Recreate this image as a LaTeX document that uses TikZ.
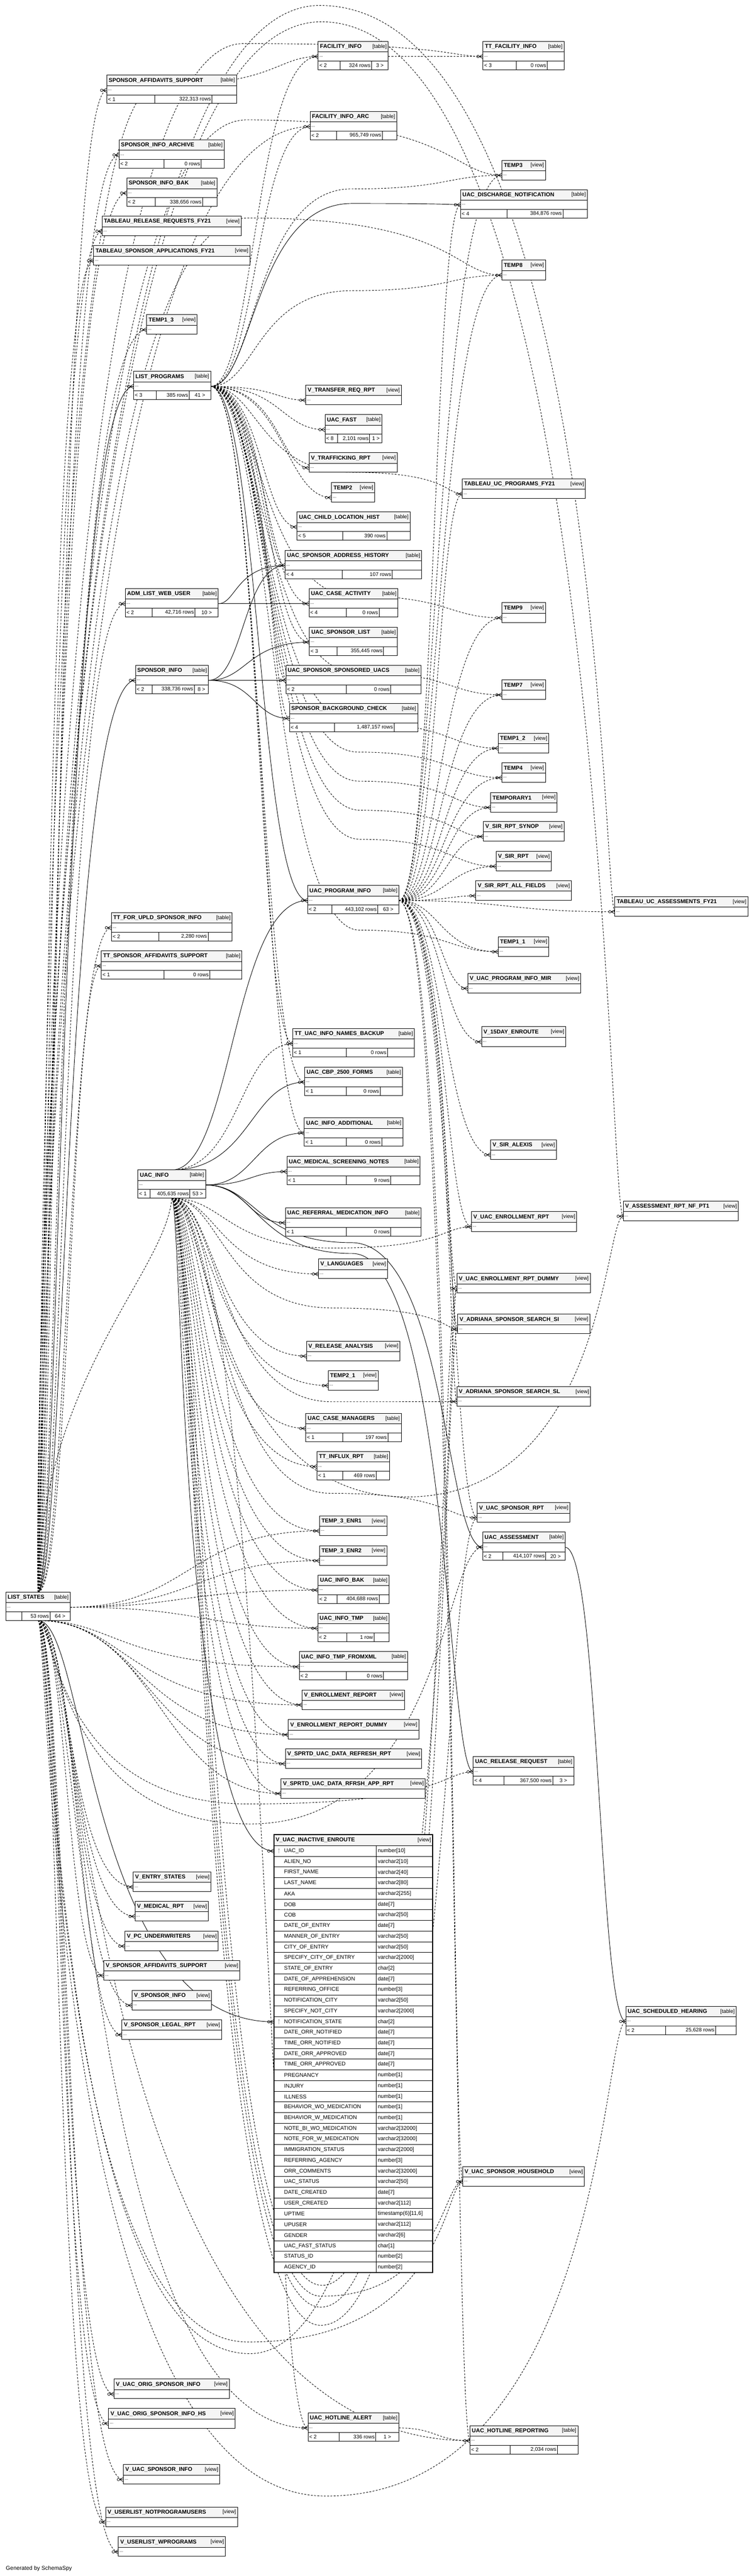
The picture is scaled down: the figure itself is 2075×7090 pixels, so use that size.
\documentclass[tikz,border=0pt]{standalone}
\usepackage{fontspec}
\setmainfont{Liberation Sans}
\usetikzlibrary{backgrounds}

\tikzset{
  hdr/.style={draw, fill=black!4, line width=1.4pt, anchor=north west, inner sep=0pt, outer sep=0pt, minimum height=29pt},
  cell/.style={draw, fill=white, line width=1.4pt, anchor=north west, inner sep=0pt, outer sep=0pt, minimum height=25pt},
  ttl/.style={anchor=west, inner sep=0pt, font=\fontsize{15.5}{18}\selectfont\bfseries},
  knd/.style={anchor=east, inner sep=0pt, font=\fontsize{14.5}{17}\selectfont},
  txt/.style={anchor=west, inner sep=0pt, font=\fontsize{14.5}{17}\selectfont},
  crow/.style={line width=1.1pt},
  nocrow/.style={draw=none},
  fkd/.style={line width=1.3pt, dash pattern=on 5pt off 4pt},
  fks/.style={line width=1.3pt}
}

\newcommand{\dbhead}[7]{%
  \def\bxa{#3}\def\bxb{#4}\def\bya{#5}%
  \node[hdr, minimum width=#4pt-#3pt] (#2h) at (#3,#5) {};
  \node[ttl] at ([xshift=5pt]#2h.west) {#6};
  \node[knd] at ([xshift=-4pt]#2h.east) {[#7]};
  \node[cell, minimum width=#4pt-#3pt] (#2) at (#3,#5+29) {};
  \node[txt, font=\fontsize{12}{14}\selectfont] at ([xshift=3pt]#2.west) {...};
  \draw[#1] (#3-14,#5+41.5) circle[radius=3.5] (#3-10.5,#5+41.5) -- (#3,#5+41.5)
    (#3-10.5,#5+41.5) -- (#3,#5+35.5) (#3-10.5,#5+41.5) -- (#3,#5+47.5);
}
\newcommand{\dbview}[6][crow]{\dbhead{#1}{#2}{#3}{#4}{#5}{#6}{view}}
\newcommand{\dbtable}[6][crow]{\dbhead{#1}{#2}{#3}{#4}{#5}{#6}{table}}
\newcommand{\dbfoot}[5]{%
  \filldraw[fill=white, line width=1.4pt] (\bxa,\bya+54) rectangle (\bxb,\bya+78)
    (#1,\bya+54) -- (#1,\bya+78) (#2,\bya+54) -- (#2,\bya+78);
  \node[txt] at (\bxa+3,\bya+66) {#3};
  \node[txt, anchor=east] at (#2-3,\bya+66) {#4};
  \node[txt, anchor=center] at ({(#2+\bxb)/2},\bya+66) {#5};
}
\newcommand{\fkv}[4][fkd]{\draw[#1] (#2) .. controls (#3,0 |- #2) and (#3,0 |- #4.west) .. (#4.west);}
\newcommand{\fkw}[6][fkd]{\draw[#1] (#2) .. controls (#3,0 |- #2) and (#3,#4) .. ({(#3+#5)/2},#4)
  .. controls (#5,#4) and (#5,0 |- #6.west) .. (#6.west);}

\begin{document}
\begin{tikzpicture}[x=1pt,y=-1pt]
\useasboundingbox (0,0) rectangle (2075,7090);

\dbtable{fi}{876}{1069}{114}{FACILITY\_INFO}\dbfoot{936}{1023}{< 2}{324 rows}{3 >}
\dbtable{tfi}{1330}{1553}{114}{TT\_FACILITY\_INFO}\dbfoot{1421}{1507}{< 3}{0 rows}{}
\dbtable{sas}{294}{651}{207}{SPONSOR\_AFFIDAVITS\_SUPPORT}\dbfoot{426}{584}{< 1}{322,313 rows}{}
\dbtable{fia}{854}{1092}{307}{FACILITY\_INFO\_ARC}\dbfoot{926}{1053}{< 2}{965,749 rows}{}
\dbtable{sia}{328}{617}{385}{SPONSOR\_INFO\_ARCHIVE}\dbfoot{451}{554}{< 2}{0 rows}{}
\dbtable{sib}{349}{597}{490}{SPONSOR\_INFO\_BAK}\dbfoot{427}{558}{< 2}{338,656 rows}{}
\dbview{trr}{281}{664}{595}{TABLEAU\_RELEASE\_REQUESTS\_FY21}
\dbview{tsa}{258}{688}{676}{TABLEAU\_SPONSOR\_APPLICATIONS\_FY21}
\dbview{t3}{1382}{1502}{441}{TEMP3}
\dbtable{udn}{1268}{1617}{522}{UAC\_DISCHARGE\_NOTIFICATION}\dbfoot{1396}{1550}{< 4}{384,876 rows}{}
\dbview{t8}{1382}{1502}{716}{TEMP8}
\dbview{t13}{404}{543}{866}{TEMP1\_3}
\dbtable{lp}{368}{580}{1022}{LIST\_PROGRAMS}\dbfoot{430}{521}{< 3}{385 rows}{41 >}
\dbview{vtr}{842}{1105}{1060}{V\_TRANSFER\_REQ\_RPT}
\dbtable{fast}{895}{1052}{1141}{UAC\_FAST}\dbfoot{929}{1018}{< 8}{2,101 rows}{1 >}
\dbview{vtk}{851}{1094}{1246}{V\_TRAFFICKING\_RPT}
\dbview{t2}{913}{1032}{1328}{TEMP2}
\dbview{tup}{1273}{1612}{1318}{TABLEAU\_UC\_PROGRAMS\_FY21}
\dbtable{uclh}{818}{1129}{1409}{UAC\_CHILD\_LOCATION\_HIST}\dbfoot{944}{1065}{< 5}{390 rows}{}
\dbtable{usah}{785}{1161}{1515}{UAC\_SPONSOR\_ADDRESS\_HISTORY}\dbfoot{942}{1080}{< 4}{107 rows}{}
\dbtable{alwu}{345}{601}{1620}{ADM\_LIST\_WEB\_USER}\dbfoot{419}{537}{< 2}{42,716 rows}{10 >}
\dbtable{uca}{851}{1096}{1620}{UAC\_CASE\_ACTIVITY}\dbfoot{953}{1044}{< 4}{0 rows}{}
\dbview{t9}{1382}{1502}{1659}{TEMP9}
\dbtable{usl}{852}{1094}{1726}{UAC\_SPONSOR\_LIST}\dbfoot{928}{1056}{< 3}{355,445 rows}{}
\dbtable{si}{373}{574}{1831}{SPONSOR\_INFO}\dbfoot{419}{535}{< 2}{338,736 rows}{8 >}
\dbtable{ussu}{787}{1159}{1831}{UAC\_SPONSOR\_SPONSORED\_UACS}\dbfoot{953}{1076}{< 2}{0 rows}{}
\dbview{t7}{1382}{1502}{1871}{TEMP7}
\dbtable{sbc}{797}{1150}{1936}{SPONSOR\_BACKGROUND\_CHECK}\dbfoot{921}{1085}{< 4}{1,487,157 rows}{}
\dbview{t12}{1372}{1511}{2018}{TEMP1\_2}
\dbview{t4}{1382}{1502}{2099}{TEMP4}
\dbview{tmp1}{1351}{1534}{2181}{TEMPORARY1}
\dbview{vsrs}{1331}{1553}{2261}{V\_SIR\_RPT\_SYNOP}
\dbview{vsr}{1366}{1518}{2343}{V\_SIR\_RPT}
\dbview{vsra}{1310}{1573}{2424}{V\_SIR\_RPT\_ALL\_FIELDS}
\dbtable{upi}{847}{1098}{2437}{UAC\_PROGRAM\_INFO}\dbfoot{914}{1040}{< 2}{443,102 rows}{63 >}
\dbview{tua}{1693}{2059}{2468}{TABLEAU\_UC\_ASSESSMENTS\_FY21}
\dbtable{tfu}{307}{639}{2512}{TT\_FOR\_UPLD\_SPONSOR\_INFO}\dbfoot{437}{573}{< 2}{2,280 rows}{}
\dbview{t11}{1372}{1511}{2578}{TEMP1\_1}
\dbtable{tsas}{279}{666}{2617}{TT\_SPONSOR\_AFFIDAVITS\_SUPPORT}\dbfoot{451}{578}{< 1}{0 rows}{}
\dbview{vpim}{1288}{1599}{2679}{V\_UAC\_PROGRAM\_INFO\_MIR}
\dbview{v15}{1326}{1558}{2826}{V\_15DAY\_ENROUTE}
\dbtable{tunb}{806}{1141}{2831}{TT\_UAC\_INFO\_NAMES\_BACKUP}\dbfoot{953}{1067}{< 1}{0 rows}{}
\dbtable{cbp}{839}{1108}{2937}{UAC\_CBP\_2500\_FORMS}\dbfoot{953}{1047}{< 1}{0 rows}{}
\dbtable{uia}{838}{1109}{3077}{UAC\_INFO\_ADDITIONAL}\dbfoot{953}{1051}{< 1}{0 rows}{}
\dbview{vsa}{1351}{1532}{3137}{V\_SIR\_ALEXIS}
\dbtable{umsn}{790}{1157}{3183}{UAC\_MEDICAL\_SCREENING\_NOTES}\dbfoot{953}{1076}{< 1}{9 rows}{}
\dbtable[nocrow]{ui}{380}{566}{3220}{UAC\_INFO}\dbfoot{414}{523}{< 1}{405,635 rows}{53 >}
\dbview{varn}{1716}{2033}{3306}{V\_ASSESSMENT\_RPT\_NF\_PT1}
\dbtable{urmi}{786}{1159}{3324}{UAC\_REFERRAL\_MEDICATION\_INFO}\dbfoot{953}{1076}{< 1}{0 rows}{}
\dbview{ver}{1298}{1588}{3335}{V\_UAC\_ENROLLMENT\_RPT}
\dbview{vlang}{877}{1067}{3465}{V\_LANGUAGES}
\dbview{verd}{1258}{1625}{3505}{V\_UAC\_ENROLLMENT\_RPT\_DUMMY}
\dbview{vasi}{1260}{1624}{3617}{V\_ADRIANA\_SPONSOR\_SEARCH\_SI}
\dbview{vra}{844}{1101}{3691}{V\_RELEASE\_ANALYSIS}
\dbview{t21}{904}{1041}{3772}{TEMP2\_1}
\dbview{vasl}{1258}{1626}{3816}{V\_ADRIANA\_SPONSOR\_SEARCH\_SL}
\dbtable{ucm}{842}{1105}{3890}{UAC\_CASE\_MANAGERS}\dbfoot{943}{1068}{< 1}{197 rows}{}
\dbtable{tir}{873}{1073}{3995}{TT\_INFLUX\_RPT}\dbfoot{943}{1036}{< 1}{469 rows}{}
\dbview{vusr}{1314}{1569}{4136}{V\_UAC\_SPONSOR\_RPT}
\dbview{te1}{880}{1065}{4172}{TEMP\_3\_ENR1}
\dbtable{ua}{1329}{1556}{4217}{UAC\_ASSESSMENT}\dbfoot{1384}{1503}{< 2}{414,107 rows}{20 >}
\dbview{te2}{880}{1065}{4254}{TEMP\_3\_ENR2}
\dbtable{uib}{876}{1071}{4335}{UAC\_INFO\_BAK}\dbfoot{928}{1044}{< 2}{404,688 rows}{}
\dbtable[nocrow]{ls}{16}{193}{4382}{LIST\_STATES}\dbfoot{60}{138}{}{53 rows}{64 >}
\dbtable{uit}{875}{1071}{4440}{UAC\_INFO\_TMP}\dbfoot{955}{1030}{< 2}{1 row}{}
\dbtable{uitx}{824}{1122}{4546}{UAC\_INFO\_TMP\_FROMXML}\dbfoot{953}{1056}{< 2}{0 rows}{}
\dbview{venr}{832}{1114}{4651}{V\_ENROLLMENT\_REPORT}
\dbview{venrd}{794}{1153}{4733}{V\_ENROLLMENT\_REPORT\_DUMMY}
\dbview{vsdr}{786}{1161}{4813}{V\_SPRTD\_UAC\_DATA\_REFRESH\_RPT}
\dbview{vsda}{774}{1171}{4895}{V\_SPRTD\_UAC\_DATA\_RFRSH\_APP\_RPT}
\dbtable{urr}{1303}{1580}{4835}{UAC\_RELEASE\_REQUEST}\dbfoot{1387}{1522}{< 4}{367,500 rows}{3 >}
\dbview{ves}{367}{581}{5152}{V\_ENTRY\_STATES}
\dbview{vmr}{372}{574}{5233}{V\_MEDICAL\_RPT}
\dbview{vpu}{344}{601}{5315}{V\_PC\_UNDERWRITERS}
\dbview{vsas}{286}{660}{5396}{V\_SPONSOR\_AFFIDAVITS\_SUPPORT}
\dbview{vsi}{364}{582}{5478}{V\_SPONSOR\_INFO}
\dbview{vslr}{336}{610}{5559}{V\_SPONSOR\_LEGAL\_RPT}
\dbtable{ush}{1723}{2027}{5522}{UAC\_SCHEDULED\_HEARING}\dbfoot{1833}{1970}{< 2}{25,628 rows}{}
\dbview{vush}{1274}{1609}{5963}{V\_UAC\_SPONSOR\_HOUSEHOLD}
\dbview{vuos}{314}{631}{6548}{V\_UAC\_ORIG\_SPONSOR\_INFO}
\dbview{vuoh}{299}{648}{6629}{V\_UAC\_ORIG\_SPONSOR\_INFO\_HS}
\dbtable{uha}{848}{1098}{6641}{UAC\_HOTLINE\_ALERT}\dbfoot{934}{1035}{< 2}{336 rows}{1 >}
\dbtable{uhr}{1294}{1591}{6676}{UAC\_HOTLINE\_REPORTING}\dbfoot{1405}{1535}{< 2}{2,034 rows}{}
\dbview{vusi}{340}{605}{6783}{V\_UAC\_SPONSOR\_INFO}
\dbview{vunp}{291}{654}{6900}{V\_USERLIST\_NOTPROGRAMUSERS}
\dbview{vuwp}{326}{621}{6982}{V\_USERLIST\_WPROGRAMS}

\node[hdr, minimum width=437pt, minimum height=31pt] (vuieh) at (754,5049) {};
\node[ttl] at ([xshift=5pt]vuieh.west) {V\_UAC\_INACTIVE\_ENROUTE};
\node[knd] at ([xshift=-4pt]vuieh.east) {[view]};
\foreach \cn/\ct [count=\i] in {UAC\_ID/number[10], ALIEN\_NO/varchar2[10], FIRST\_NAME/varchar2[40],
    LAST\_NAME/varchar2[80], AKA/varchar2[255], DOB/date[7], COB/varchar2[50], DATE\_OF\_ENTRY/date[7],
    MANNER\_OF\_ENTRY/varchar2[50], CITY\_OF\_ENTRY/varchar2[50], SPECIFY\_CITY\_OF\_ENTRY/varchar2[2000],
    STATE\_OF\_ENTRY/char[2], DATE\_OF\_APPREHENSION/date[7], REFERRING\_OFFICE/number[3],
    NOTIFICATION\_CITY/varchar2[50], SPECIFY\_NOT\_CITY/varchar2[2000], NOTIFICATION\_STATE/char[2],
    DATE\_ORR\_NOTIFIED/date[7], TIME\_ORR\_NOTIFIED/date[7], DATE\_ORR\_APPROVED/date[7],
    TIME\_ORR\_APPROVED/date[7], PREGNANCY/number[1], INJURY/number[1], ILLNESS/number[1],
    BEHAVIOR\_WO\_MEDICATION/number[1], BEHAVIOR\_W\_MEDICATION/number[1],
    NOTE\_BI\_WO\_MEDICATION/varchar2[32000], NOTE\_FOR\_W\_MEDICATION/varchar2[32000],
    IMMIGRATION\_STATUS/varchar2[2000], REFERRING\_AGENCY/number[3], ORR\_COMMENTS/varchar2[32000],
    UAC\_STATUS/varchar2[50], DATE\_CREATED/date[7], USER\_CREATED/varchar2[112],
    UPTIME/{timestamp(6)[11,6]}, UPUSER/varchar2[112], GENDER/varchar2[6], UAC\_FAST\_STATUS/char[1],
    STATUS\_ID/number[2], AGENCY\_ID/number[2]} {
  \node[cell, minimum width=437pt, minimum height=29.375pt] (vuie\i) at (754,{5080+(\i-1)*29.375}) {};
  \draw[line width=1pt] ([xshift=282pt]vuie\i.north west) -- ([xshift=282pt]vuie\i.south west);
  \node[txt, font=\fontsize{15}{18}\selectfont] at ([xshift=28pt]vuie\i.west) {\cn};
  \node[txt, font=\fontsize{15}{18}\selectfont] at ([xshift=286pt]vuie\i.west) {\ct};
}
\draw[line width=2.6pt] (vuieh.north west) rectangle (vuie40.south east);
\foreach \k in {1,17} {
  \fill[gray!60] ([xshift=14pt,yshift=5pt]vuie\k.west) circle[radius=2.5];
  \draw[gray!60, line width=1pt] ([xshift=14pt,yshift=5pt]vuie\k.west) -- ([xshift=14pt,yshift=-6pt]vuie\k.west);
  \draw[crow] ([xshift=-14pt]vuie\k.west) circle[radius=3.5] ([xshift=-10.5pt]vuie\k.west) -- (vuie\k.west)
    ([xshift=-10.5pt]vuie\k.west) -- ([yshift=6pt]vuie\k.west) ([xshift=-10.5pt]vuie\k.west) -- ([yshift=-6pt]vuie\k.west);
}

\node[txt, font=\fontsize{15.5}{18}\selectfont] (gen) at (16,7070) {Generated by SchemaSpy};

\coordinate (lsS) at (104.5,4460);
\coordinate (uiS) at (473,3298);

\begin{scope}[on background layer]
\fill[white] (0,0) rectangle (2075,7090);
\foreach \c/\bx in {sas/150,sia/140,sib/134,trr/127,tsa/120,t13/158,alwu/172,tfu/185,tsas/192,fia/113}
  {\fkv{lsh.north}{\bx}{\c}}
\fkv[fks]{lsh.north}{165}{lp}
\fkv[fks]{lsh.north}{178}{si}
\fkw{lsh.north}{108}{235}{760}{fi}
\fkw{lsh.north}{104}{120}{1235}{tfi}
\fkw{lsh.north}{111}{330}{1245}{t3}
\fkw{lsh.north}{117}{600}{1250}{t8}
\fkw{lsh.north}{100}{15}{1660}{tua}
\fkw{lsh.north}{97}{60}{1672}{varn}
\draw[fkd] (lsh.north) .. controls (110,3800) and (456,3500) .. (uiS);
\foreach \c/\bx in {ves/190,vmr/196,vpu/202,vsas/184,vsi/208,vslr/214,vuos/172,vuoh/166,vusi/180,vunp/160,vuwp/176,uha/224,uhr/232}
  {\fkv{lsS}{\bx}{\c}}
\fkv[fks]{lsS}{240}{vuie17}
\foreach \c/\bx in {te1/520,te2/540,uib/500,uit/560}
  {\fkv{ls.east}{\bx}{\c}}
\foreach \c/\bx in {uitx/320,venr/350,venrd/380,vsdr/410,vsda/440}
  {\fkv{lsS}{\bx}{\c}}
\fkw{lsS}{150}{4965}{1218}{urr}
\fkw{lsS}{156}{5020}{1222}{ua}
\fkw{lsS}{140}{6446}{1226}{vush}
\fkw{lsS}{145}{6478}{1230}{verd}
\fkw{lsS}{135}{6870}{1660}{ush}

\foreach \c/\bx in {fi/700,fia/706,vtr/760,fast/775,vtk/770,t2/785,uclh/722,usah/728,uca/732,usl/736,ussu/740,sbc/744,tunb/712,cbp/716,uia/720}
  {\fkv{lp.east}{\bx}{\c}}
\fkv[fks]{lp.east}{712}{upi}
\foreach \c/\bx/\m/\bb in {t3/702/520/1232, t8/704/800/1236, tup/710/1300/1228, t9/716/1640/1234, t7/720/1850/1238,
    t12/724/1990/1240, t4/728/2070/1244, tmp1/732/2150/1246, vsrs/736/2230/1248, vsr/740/2310/1242, t11/744/2560/1236}
  {\fkw{lp.east}{\bx}{\m}{\bb}{\c}}
\fkw[fks]{lp.east}{698}{560}{1240}{udn}

\foreach \c/\bx in {tup/1205,t9/1210,t7/1214,t12/1218,t4/1222,tmp1/1226,vsrs/1230,vsr/1234,vsra/1238,t11/1210,vpim/1214,
    v15/1218,vsa/1222,ver/1226,verd/1230,vasi/1234,vasl/1238,vusr/1242,vush/1246,uhr/1250,t3/1200,t8/1204,udn/1196}
  {\fkv{upi.east}{\bx}{\c}}
\fkv{upi.east}{1400}{tua}

\fkv[fks]{uih.north}{640}{upi}
\fkv[fks]{uih.north}{690}{cbp}
\fkv{uih.north}{660}{tunb}
\fkv[fks]{ui.east}{700}{uia}
\fkv[fks]{ui.east}{690}{umsn}
\fkv[fks]{ui.east}{680}{urmi}
\foreach \c/\bx in {vlang/600,vra/590,t21/580,ucm/570,tir/562,te1/555,te2/548,uib/542,uit/536,uitx/530,venr/524,venrd/518,vsdr/512,vsda/506,uha/735}
  {\fkv{uiS}{\bx}{\c}}
\fkv[fks]{uiS}{500}{vuie1}
\foreach \c/\bx/\m/\bb in {ver/620/3435/1218, vasi/610/3600/1222, vasl/600/3858/1226, vusr/590/4110/1230,
    verd/560/6290/1214, vush/550/6320/1218, vasi/545/6350/1222, vusr/540/6400/1226}
  {\fkw{uiS}{\bx}{\m}{\bb}{\c}}
\fkw{uiS}{575}{4120}{1665}{varn}
\fkw[fks]{ui.east}{705}{3420}{1228}{ua}
\fkw[fks]{ui.east}{708}{3450}{1232}{urr}

\foreach \c/\bx in {usl/680,ussu/690,sbc/700,usah/670}
  {\fkv[fks]{si.east}{\bx}{\c}}
\fkv[fks]{alwu.east}{720}{uca}
\fkv[fks]{alwu.east}{650}{usah}
\draw[fkd] (fi.east) -- (tfi.west);
\fkv[fks]{ua.east}{1650}{ush}
\fkv{uha.east}{1200}{uhr}
\end{scope}
\end{tikzpicture}
\end{document}
